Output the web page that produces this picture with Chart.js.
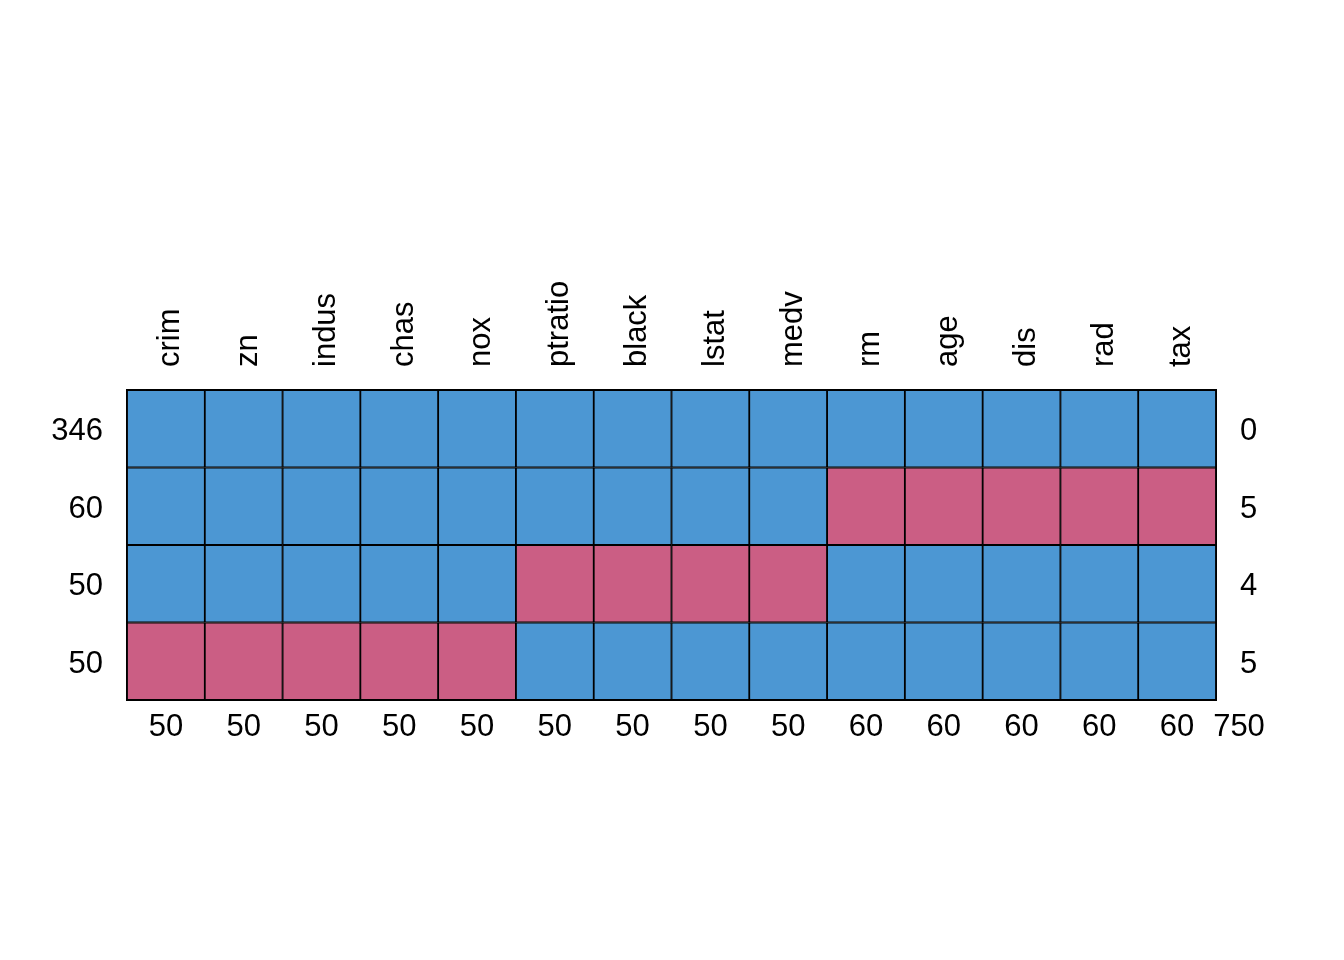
<!DOCTYPE html>
<html>
<head>
<meta charset="utf-8">
<script src="https://cdn.jsdelivr.net/npm/chart.js@4/dist/chart.umd.min.js"></script>
<style>
  html, body { margin: 0; padding: 0; background: #ffffff; }
  #wrap { width: 1344px; height: 960px; }
</style>
</head>
<body>
<div id="wrap"><canvas id="pattern"></canvas></div>
<script>
// variables (columns of the pattern)
const columns = ['crim', 'zn', 'indus', 'chas', 'nox', 'ptratio', 'black', 'lstat', 'medv', 'rm', 'age', 'dis', 'rad', 'tax'];
// number of rows having each pattern (left labels)
const rowCounts = [346, 60, 50, 50];
// number of missing variables in each pattern (right labels)
const rowMissing = [0, 5, 4, 5];
// missing values per variable (bottom labels)
const colMissing = [50, 50, 50, 50, 50, 50, 50, 50, 50, 60, 60, 60, 60, 60];
const totalMissing = 750;
// 1 = observed, 0 = missing
const patterns = [
  [1, 1, 1, 1, 1, 1, 1, 1, 1, 1, 1, 1, 1, 1],
  [1, 1, 1, 1, 1, 1, 1, 1, 1, 0, 0, 0, 0, 0],
  [1, 1, 1, 1, 1, 0, 0, 0, 0, 1, 1, 1, 1, 1],
  [0, 0, 0, 0, 0, 1, 1, 1, 1, 1, 1, 1, 1, 1]
];

const BLUE = '#4C97D3';
const RED = '#CB5E84';
const FONT = { family: "'Liberation Sans', Arial, sans-serif", size: 31 };
const nRows = patterns.length;

// one floating bar per cell, row 0 on top
const datasets = patterns.map((row, r) => ({
  label: 'pattern ' + (r + 1),
  data: row.map(() => [nRows - r - 1, nRows - r]),
  backgroundColor: row.map(v => v ? BLUE : RED),
  borderColor: '#000000',
  borderWidth: 1.25,
  borderSkipped: false,
  barPercentage: 1,
  categoryPercentage: 1,
  grouped: false
}));

const halfTicks = scale => {
  scale.ticks = rowCounts.map((_, i) => ({ value: i + 0.5 }));
};

// total number of missing values, bottom right
const totalLabel = {
  id: 'totalLabel',
  afterDraw(chart) {
    const { ctx, chartArea } = chart;
    ctx.save();
    ctx.font = FONT.size + 'px ' + FONT.family;
    ctx.fillStyle = '#000000';
    ctx.textAlign = 'center';
    ctx.textBaseline = 'middle';
    ctx.fillText(String(totalMissing), chartArea.right + 23, chartArea.bottom + 27);
    ctx.restore();
  }
};

const border = { display: true, color: '#000000', width: 2 };

new Chart(document.getElementById('pattern'), {
  type: 'bar',
  data: { labels: columns, datasets: datasets },
  options: {
    responsive: true,
    maintainAspectRatio: false,
    animation: false,
    layout: { padding: 0 },
    plugins: { legend: { display: false }, tooltip: { enabled: false } },
    scales: {
      x: {
        position: 'bottom',
        offset: true,
        grid: { display: false },
        border: border,
        ticks: {
          color: '#000000', font: FONT, padding: 1, maxRotation: 0, autoSkip: false,
          callback: (v, i) => colMissing[i]
        },
        afterFit: s => { s.height = 260; }
      },
      xTop: {
        position: 'top',
        offset: true,
        labels: columns,
        grid: { display: false },
        border: border,
        ticks: {
          color: '#000000', font: FONT, padding: 15, minRotation: 90, maxRotation: 90,
          autoSkip: false, labelOffset: 42
        },
        afterFit: s => { s.height = 390; }
      },
      y: {
        position: 'left',
        min: 0, max: nRows,
        grid: { display: false },
        border: border,
        afterBuildTicks: halfTicks,
        ticks: {
          color: '#000000', font: FONT, padding: 16, labelOffset: 3,
          callback: v => rowCounts[nRows - 1 - Math.floor(v)]
        },
        afterFit: s => { s.width = 127; }
      },
      yRight: {
        position: 'right',
        min: 0, max: nRows,
        grid: { display: false },
        border: border,
        afterBuildTicks: halfTicks,
        ticks: {
          color: '#000000', font: FONT, padding: 16, labelOffset: 3,
          callback: v => rowMissing[nRows - 1 - Math.floor(v)]
        },
        afterFit: s => { s.width = 128; }
      }
    }
  },
  plugins: [totalLabel]
});
</script>
</body>
</html>
